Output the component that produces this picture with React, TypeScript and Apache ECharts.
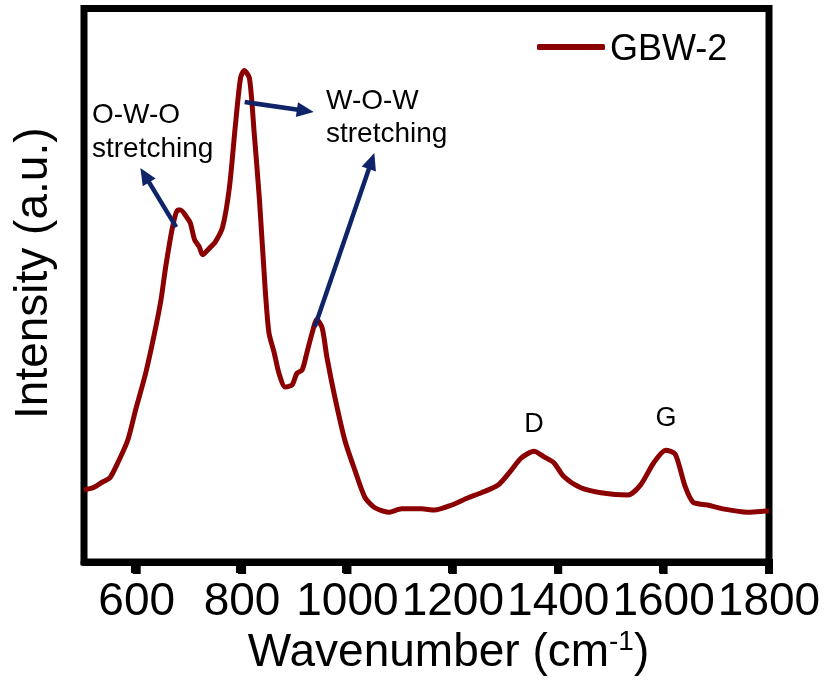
import React, { useEffect, useRef } from "react";
import * as echarts from "echarts";

const wavenumber = [500, 508, 517, 536, 549, 564, 583, 598, 617, 634, 646, 655, 668, 678, 683, 697, 702, 710, 719, 725, 738, 749, 763, 776, 787, 797, 804, 814, 823, 833, 844, 851, 861, 870, 882, 895, 904, 914, 923, 933, 942, 952, 961, 976, 995, 1014, 1033, 1052, 1078, 1103, 1141, 1165, 1198, 1229, 1254, 1286, 1311, 1330, 1354, 1373, 1392, 1411, 1443, 1481, 1532, 1556, 1581, 1604, 1622, 1641, 1656, 1683, 1713, 1758, 1796, 1800];
const intensity = [13.0, 13.2, 13.4, 14.5, 15.2, 17.9, 22.0, 27.5, 34.1, 41.4, 47.3, 53.3, 60.5, 63.6, 63.6, 62.0, 61.2, 58.2, 56.9, 55.5, 56.7, 57.8, 60.5, 67.7, 78.6, 87.4, 88.8, 87.4, 77.5, 65.4, 49.1, 41.4, 37.8, 34.1, 31.6, 32.0, 34.1, 34.7, 37.8, 41.4, 43.8, 42.3, 37.0, 29.8, 22.0, 16.6, 11.7, 9.8, 9.0, 9.6, 9.6, 9.4, 10.3, 11.6, 12.5, 13.9, 16.6, 18.8, 20.0, 19.0, 17.9, 15.4, 13.4, 12.5, 12.1, 13.9, 17.9, 20.2, 19.5, 13.6, 10.8, 10.3, 9.6, 9.0, 9.2, 9.2];

const xTicks = [600, 800, 1000, 1200, 1400, 1600, 1800];
const X_MIN = 500;
const X_MAX = 1800;
const seriesName = "GBW-2";

// annotation arrows: [tailX, tailY, tipX, tipY] in data units
const arrows = [
  [675, 60.5, 607, 71.2],
  [805, 83.1, 936, 81.3],
  [938, 42.5, 1051, 73.9],
];
const annotationTexts = ["O-W-O\nstretching", "W-O-W\nstretching", "D", "G"];

const FONT = "'Liberation Sans', Arial, Helvetica, sans-serif";
const RED = "#8b0000";
const NAVY = "#0f2468";

const GRID_LEFT = 81.5;
const GRID_RIGHT = 56;
const WIDTH = 825;

export default function App() {
  const ref = useRef<HTMLDivElement>(null);
  useEffect(() => {
    if (!ref.current) return;
    const chart = echarts.init(ref.current, null, { renderer: "svg" });
    const data = wavenumber.map((w, i) => [w, intensity[i]]);
    const plotW = WIDTH - GRID_LEFT - GRID_RIGHT;
    // helper grid whose left edge sits at the first labelled tick, so its axis ticks land on 600..1800
    const tickGridLeft = GRID_LEFT + ((xTicks[0] - X_MIN) / (X_MAX - X_MIN)) * plotW;
    chart.setOption({
      animation: false,
      grid: [
        {
          left: GRID_LEFT,
          right: GRID_RIGHT,
          top: 8.5,
          bottom: 122,
          show: true,
          borderColor: "#000",
          borderWidth: 7,
        },
        {
          left: tickGridLeft,
          right: GRID_RIGHT,
          top: 8.5,
          bottom: 122,
          show: false,
        },
      ],
      legend: {
        show: true,
        left: 537,
        top: 29,
        padding: 0,
        itemWidth: 68,
        itemHeight: 6,
        icon: "roundRect",
        data: [{ name: seriesName, itemStyle: { color: RED } }],
        textStyle: { fontSize: 36, fontFamily: FONT, color: "#000", lineHeight: 36 },
      },
      xAxis: [
        {
          type: "value",
          gridIndex: 0,
          min: X_MIN,
          max: X_MAX,
          name: "{a|Wavenumber (cm}{b|-1}{a|)}",
          nameLocation: "middle",
          nameGap: 62,
          nameTextStyle: {
            padding: [0, 0, 0, 44],
            rich: {
              a: { fontSize: 46, fontFamily: FONT, color: "#000", lineHeight: 46 },
              b: { fontSize: 28, fontFamily: FONT, color: "#000", lineHeight: 28, verticalAlign: "top" },
            },
          },
          axisLine: { show: true, onZero: false, lineStyle: { color: "#000", width: 7 } },
          splitLine: { show: false },
          axisTick: { show: false },
          axisLabel: {
            customValues: xTicks,
            fontSize: 46,
            fontFamily: FONT,
            color: "#000",
            margin: 14,
            hideOverlap: false,
            showMinLabel: true,
            showMaxLabel: true,
            formatter: (v: number) => String(v),
          },
        },
        {
          type: "value",
          gridIndex: 1,
          min: xTicks[0],
          max: X_MAX,
          interval: 200,
          axisLine: { show: true, onZero: false, lineStyle: { color: "#000", width: 7 } },
          axisTick: { show: true, inside: false, length: 11, lineStyle: { color: "#000", width: 8 } },
          axisLabel: { show: false },
          splitLine: { show: false },
        },
      ],
      yAxis: [
        {
          type: "value",
          gridIndex: 0,
          min: 0,
          max: 100,
          name: "Intensity (a.u.)",
          nameLocation: "middle",
          nameGap: 30,
          nameTextStyle: { fontSize: 46, fontFamily: FONT, color: "#000", padding: [0, 0, 0, 24] },
          axisLine: { show: false },
          axisTick: { show: false },
          axisLabel: { show: false },
          splitLine: { show: false },
        },
        {
          type: "value",
          gridIndex: 1,
          min: 0,
          max: 100,
          show: false,
        },
      ],
      series: [
        {
          name: seriesName,
          type: "line",
          xAxisIndex: 0,
          yAxisIndex: 0,
          data,
          showSymbol: false,
          smooth: 0.25,
          lineStyle: { color: RED, width: 5 },
          itemStyle: { color: RED },
          z: 3,
        },
      ],
    });

    const graphics: any[] = [];
    xTicks.forEach((t) => {
      const p = chart.convertToPixel({ xAxisIndex: 0, yAxisIndex: 0 }, [t, 0]) as number[];
      graphics.push({
        type: "rect",
        z: 1000,
        shape: { x: p[0] - 4, y: p[1] - 3, width: 8, height: 15 },
        style: { fill: "#000" },
      });
    });
    arrows.forEach(([x1, y1, x2, y2]) => {
      const p1 = chart.convertToPixel({ xAxisIndex: 0, yAxisIndex: 0 }, [x1, y1]) as number[];
      const p2 = chart.convertToPixel({ xAxisIndex: 0, yAxisIndex: 0 }, [x2, y2]) as number[];
      const dx = p2[0] - p1[0];
      const dy = p2[1] - p1[1];
      const len = Math.sqrt(dx * dx + dy * dy);
      const ux = dx / len;
      const uy = dy / len;
      const nx = -uy;
      const ny = ux;
      const headLen = 17;
      const hw = 7.5;
      const bx = p2[0] - ux * headLen;
      const by = p2[1] - uy * headLen;
      graphics.push({
        type: "line",
        z: 100,
        shape: { x1: p1[0], y1: p1[1], x2: bx + ux * 3, y2: by + uy * 3 },
        style: { stroke: NAVY, lineWidth: 4.5 },
      });
      graphics.push({
        type: "polygon",
        z: 100,
        shape: { points: [[p2[0], p2[1]], [bx + nx * hw, by + ny * hw], [bx - nx * hw, by - ny * hw]] },
        style: { fill: NAVY },
      });
    });
    graphics.push(
      {
        type: "text",
        z: 100,
        x: 92,
        y: 96,
        style: { text: annotationTexts[0], fontSize: 28, fontFamily: FONT, fill: "#000", lineHeight: 34, verticalAlign: "top", align: "left" },
      },
      {
        type: "text",
        z: 100,
        x: 326,
        y: 83,
        style: { text: annotationTexts[1], fontSize: 28, fontFamily: FONT, fill: "#000", lineHeight: 33, verticalAlign: "top", align: "left" },
      },
      {
        type: "text",
        z: 100,
        x: 534,
        y: 423,
        style: { text: annotationTexts[2], fontSize: 27, fontFamily: FONT, fill: "#000", verticalAlign: "middle", align: "center" },
      },
      {
        type: "text",
        z: 100,
        x: 666,
        y: 417,
        style: { text: annotationTexts[3], fontSize: 27, fontFamily: FONT, fill: "#000", verticalAlign: "middle", align: "center" },
      }
    );
    chart.setOption({ graphic: graphics });

    return () => chart.dispose();
  }, []);
  return <div ref={ref} style={{ position: "fixed", left: 0, top: 0, width: 825, height: 684 }} />;
}
